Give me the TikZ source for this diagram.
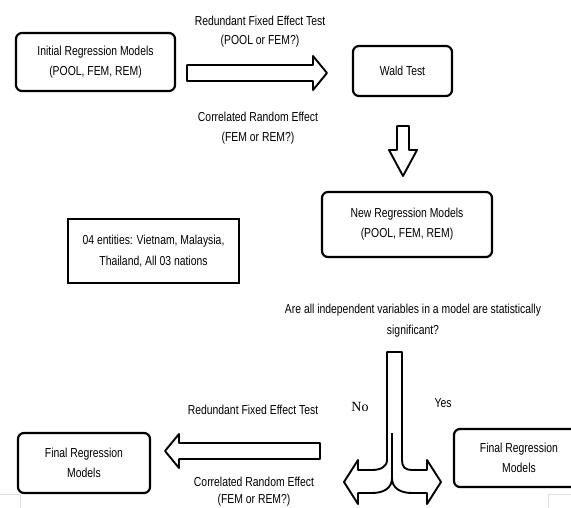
\documentclass[tikz,border=0pt]{standalone}
\usepackage{fontspec}
\setmainfont{Liberation Sans}[FakeStretch=0.8]
\newfontfamily\serifno{Liberation Serif}
\tikzset{
  model/.style={draw, line width=2.2pt, rounded corners=6pt, align=center,
    font=\fontsize{13}{20}\selectfont, inner sep=0pt},
  plainbox/.style={draw, line width=2.4pt, align=center,
    font=\fontsize{13}{21}\selectfont, inner sep=0pt},
  lbl/.style={align=center, font=\fontsize{13}{20}\selectfont, inner sep=0pt},
  blockarrow/.style={draw, line width=1.9pt, fill=white, line join=round},
  edgeline/.style={draw=black!12, line width=0.8pt}
}
\begin{document}
\begin{tikzpicture}[x=1pt,y=-1pt]
        \useasboundingbox (0,0) rectangle (571,508);
        % boxes
        \node [model, minimum width=159pt, minimum height=58pt] (initial) at (95.5,62) {Initial Regression Models\\(POOL, FEM, REM)};
        \node [model, minimum width=99pt, minimum height=50pt] (wald) at (402.5,71) {Wald Test};
        \node [model, minimum width=170pt, minimum height=65pt] (newmod) at (407,224.5) {New Regression Models\\(POOL, FEM, REM)};
        \node [plainbox, minimum width=171pt, minimum height=64pt] (entities) at (153.5,251) {04 entities: Vietnam, Malaysia,\\Thailand, All 03 nations};
        \node [model, minimum width=132pt, minimum height=60pt] (finalno) at (84,463) {Final Regression\\Models};
        \node [model, minimum width=130pt, minimum height=58pt] (finalyes) at (519,458) {Final Regression\\Models};
        % block arrows
        \draw[blockarrow] (187,65) -- (313,65) -- (313,56) -- (327,73) -- (313,90) -- (313,81) -- (187,81) -- cycle;
        \draw[blockarrow] (397,126) -- (409,126) -- (409,150) -- (417,150) -- (403,176) -- (389,150) -- (397,150) -- cycle;
        \draw[blockarrow] (320,443) -- (179,443) -- (179,434) -- (165,451) -- (179,468) -- (179,459) -- (320,459) -- cycle;
        \draw[blockarrow] (387,352) -- (402,352) -- (402,460) .. controls (402,467) and (405,470) .. (412,470)
          -- (427,470) -- (427,460) -- (441,482) -- (427,504) -- (427,493) -- (412,493)
          .. controls (400,493) and (392,488) .. (392,478)
          .. controls (392,488) and (384,493) .. (372,493) -- (358,493) -- (358,504) -- (344,482) -- (358,460)
          -- (358,470) -- (372,470) .. controls (380,470) and (387,467) .. (387,460) -- cycle;
        \draw[line width=1.9pt] (392,433) -- (392,478);
        % labels
        \node [lbl] (redtop) at (260,21) {Redundant Fixed Effect Test};
        \node [lbl] (pooltop) at (260,41) {(POOL or FEM?)};
        \node [lbl] (cortop) at (258,117) {Correlated Random Effect};
        \node [lbl] (femtop) at (258,138) {(FEM or REM?)};
        \node [lbl] (question) at (413,310) {Are all independent variables in a model are statistically};
        \node [lbl] (signif) at (413,331) {significant?};
        \node [font=\serifno\fontsize{14}{16}\selectfont, inner sep=0pt] (no) at (360,407) {No};
        \node [lbl] (yes) at (443,403) {Yes};
        \node [lbl] (redbot) at (253,410) {Redundant Fixed Effect Test};
        \node [lbl] (corbot) at (254,482) {Correlated Random Effect};
        \node [lbl] (fembot) at (254,500) {(FEM or REM?)};
        % page edges
        \draw[edgeline] (0,494) -- (20,494) -- (20,508);
        \draw[edgeline] (571,494) -- (548,494) -- (548,508);
\end{tikzpicture}
\end{document}
